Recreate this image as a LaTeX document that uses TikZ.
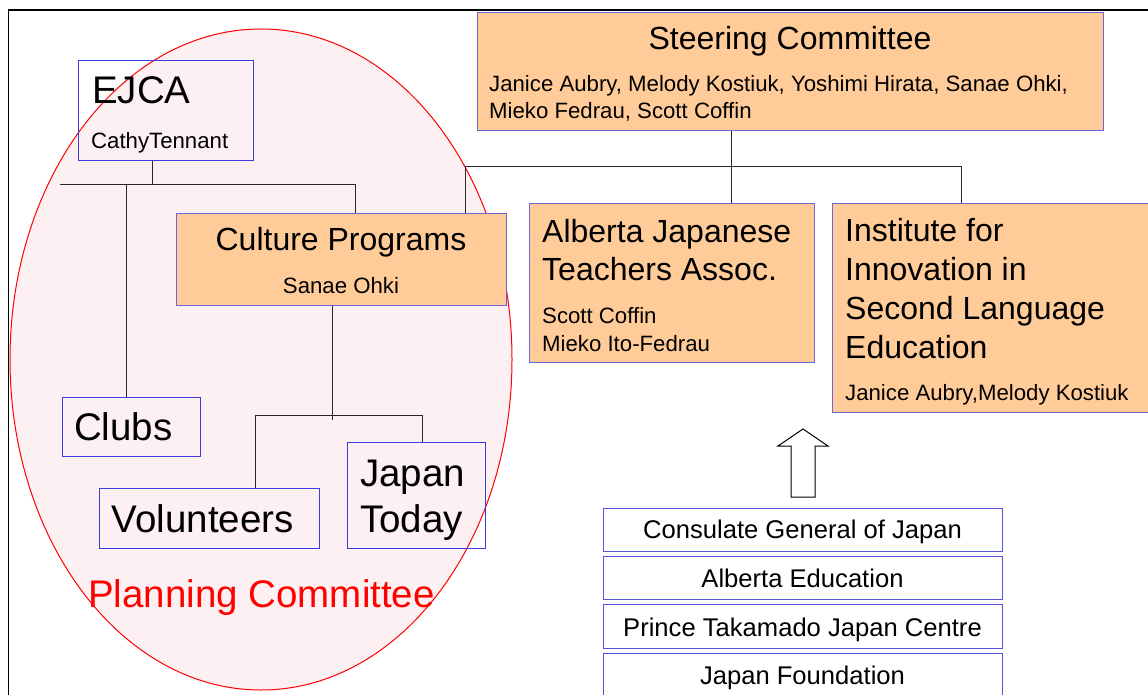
\documentclass[tikz,border=0pt]{standalone}
\usepackage{fontspec}
\setmainfont{Liberation Sans}
\usetikzlibrary{shapes.geometric}
\newcommand\szL{\fontsize{38.5}{44}\selectfont}
\newcommand\szM{\fontsize{32}{38}\selectfont}
\newcommand\szB{\fontsize{25.6}{30}\selectfont}
\newcommand\szS{\fontsize{22.2}{27}\selectfont}
\definecolor{orfill}{RGB}{255,204,153}
\definecolor{orline}{RGB}{110,100,210}
\definecolor{bline}{RGB}{60,60,225}
\definecolor{lline}{RGB}{85,85,220}
\definecolor{pinkfill}{RGB}{253,240,242}
\definecolor{conn}{RGB}{40,40,40}
\tikzset{
  obox/.style={draw=orline, fill=orfill, line width=1.3pt, inner sep=0pt, anchor=north west},
  bbox/.style={draw=bline, line width=1.3pt, inner sep=0pt, anchor=north west},
  lbox/.style={draw=lline, line width=1.3pt, inner sep=0pt, anchor=north west, minimum width=399pt},
  txt/.style={inner sep=0pt, anchor=base west},
  ctxt/.style={inner sep=0pt, anchor=base},
  link/.style={draw=conn, line width=1pt},
}
\begin{document}
\begin{tikzpicture}[x=1pt,y=-1pt]
\useasboundingbox (0,0) rectangle (1148,695);
\clip (0,0) rectangle (1148,695);
% frame
\draw[line width=1.8pt] (8.5,720) -- (8.5,10) -- (1180,10);
% ellipse
\node[draw=red, fill=pinkfill, line width=1pt, ellipse, inner sep=0pt, minimum width=502pt, minimum height=661pt] (plan) at (261,359.5) {};
% coordinates for connectors
\coordinate (sj) at (731.5,167);
\coordinate (sl) at (465,167);
\coordinate (sr) at (961,167);
\coordinate (ej) at (152,185);
\coordinate (el) at (60,185);
\coordinate (ec) at (126,185);
\coordinate (er) at (355,185);
\coordinate (cj) at (332,420);
\coordinate (cl) at (255,415);
\coordinate (cr) at (422,415);
% boxes
\node[obox, minimum width=626pt, minimum height=118pt] (steer) at (477,12) {};
\node[obox, minimum width=285pt, minimum height=159pt] (ajta) at (529,203) {};
\node[obox, minimum width=316pt, minimum height=209pt] (inst) at (832,203) {};
\node[obox, minimum width=330pt, minimum height=92pt] (cult) at (176,213) {};
\node[bbox, minimum width=175pt, minimum height=100pt] (ejca) at (78,60) {};
\node[bbox, minimum width=138pt, minimum height=59pt] (clubs) at (61.5,397) {};
\node[bbox, minimum width=220pt, minimum height=60pt] (vol) at (98.5,488) {};
\node[bbox, minimum width=138pt, minimum height=106pt] (jt) at (346.5,442) {};
\node[lbox, minimum height=43pt] (cgj) at (603,508) {};
\node[lbox, minimum height=43pt] (aed) at (603,556) {};
\node[lbox, minimum height=44pt] (ptj) at (603,604) {};
\node[lbox, minimum height=60pt] (jf) at (603,653) {};
% connectors
\path[link] (steer.south -| sj) -- (ajta.north -| sj);
\path[link] (cult.north -| sl) -- (sl) -- (sr) -- (inst.north -| sr);
\path[link] (ejca.south -| ej) -- (ej);
\path[link] (el) -- (er) -- (cult.north -| er);
\path[link] (ec) -- (clubs.north -| ec);
\path[link] (cult.south -| cj) -- (cj);
\path[link] (vol.north -| cl) -- (cl) -- (cr) -- (jt.north -| cr);
% hollow arrow
\draw[line width=1pt, fill=white] (791,497) -- (791,446) -- (778,446) -- (803,429) -- (828,446) -- (815,446) -- (815,497) -- cycle;
% texts
\node[ctxt, font=\szM] (t1) at (790,50) {Steering Committee};
\node[txt, font=\szS] (t2) at (489,92) {Janice Aubry, Melody Kostiuk, Yoshimi Hirata, Sanae Ohki,};
\node[txt, font=\szS] (t3) at (489,119) {Mieko Fedrau, Scott Coffin};
\node[txt, font=\szM] (t4) at (542,242) {Alberta Japanese};
\node[txt, font=\szM] (t5) at (542,280) {Teachers Assoc.};
\node[txt, font=\szS] (t6) at (542,323) {Scott Coffin};
\node[txt, font=\szS] (t7) at (542,351) {Mieko Ito-Fedrau};
\node[txt, font=\szM] (t8) at (845,241) {Institute for};
\node[txt, font=\szM] (t9) at (845,280) {Innovation in};
\node[txt, font=\szM] (t10) at (845,319) {Second Language};
\node[txt, font=\szM] (t11) at (845,358) {Education};
\node[txt, font=\szS] (t12) at (845,400) {Janice Aubry,Melody Kostiuk};
\node[ctxt, font=\szM] (t13) at (341,250) {Culture Programs};
\node[ctxt, font=\szS] (t14) at (341,293) {Sanae Ohki};
\node[txt, font=\szL] (t15) at (92,104) {EJCA};
\node[txt, font=\szS] (t16) at (91,149) {CathyTennant};
\node[txt, font=\szL] (t17) at (74,440) {Clubs};
\node[txt, font=\szL] (t18) at (111.5,532) {Volunteers};
\node[txt, font=\szL] (t19) at (360,486) {Japan};
\node[txt, font=\szL] (t20) at (360,532) {Today};
\node[txt, font=\szL, text=red] (t21) at (88,607) {Planning Committee};
\node[ctxt, font=\szB] (t22) at (802.5,538) {Consulate General of Japan};
\node[ctxt, font=\szB] (t23) at (802.5,587) {Alberta Education};
\node[ctxt, font=\szB] (t24) at (802.5,636) {Prince Takamado Japan Centre};
\node[ctxt, font=\szB] (t25) at (802.5,684) {Japan Foundation};
\end{tikzpicture}
\end{document}
